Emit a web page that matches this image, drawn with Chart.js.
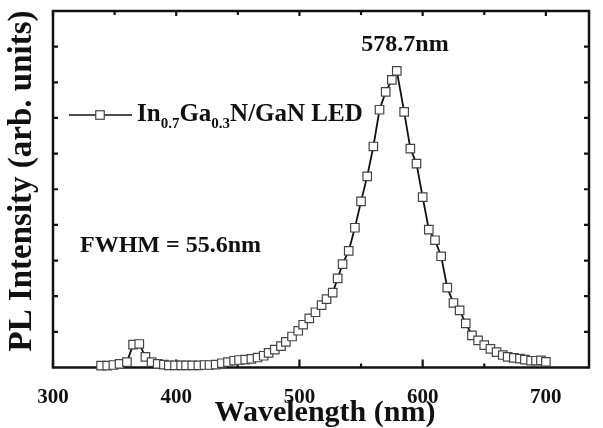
<!DOCTYPE html>
<html>
<head>
    <title>PL spectrum</title>
    <script src="https://cdn.jsdelivr.net/npm/chart.js@4.4.0/dist/chart.umd.min.js"></script>
    <style>
        body { margin: 0; background: #fff; }
        #wrap { width: 603px; height: 428px; }
    </style>
</head>
<body>
<div id="wrap"><canvas id="pl"></canvas></div>
<script>
    // values
    var wavelength = [339, 344, 349, 354, 360, 365, 370, 375, 380, 385,
        390, 394, 399, 404, 408, 413, 418, 423, 427, 432,
        437, 442, 447, 451, 456, 461, 466, 471, 475, 480,
        485, 489, 494, 499, 503, 508, 513, 518, 522, 527,
        531, 535, 540, 545, 550, 555, 560, 565, 570, 575,
        579, 585, 590, 595, 600, 605, 610, 615, 620, 625,
        630, 635, 640, 645, 650, 655, 660, 665, 669, 674,
        679, 683, 688, 692, 696, 700];
    var intensity = [0.05, 0.05, 0.07, 0.10, 0.15, 0.64, 0.66, 0.30, 0.15, 0.10,
        0.08, 0.06, 0.06, 0.06, 0.06, 0.06, 0.06, 0.07, 0.07, 0.08,
        0.12, 0.15, 0.19, 0.21, 0.22, 0.24, 0.28, 0.33, 0.41, 0.50,
        0.60, 0.72, 0.87, 1.03, 1.20, 1.38, 1.55, 1.75, 1.92, 2.10,
        2.50, 2.90, 3.27, 3.92, 4.66, 5.36, 6.20, 7.23, 7.73, 8.07,
        8.32, 7.17, 6.14, 5.72, 4.78, 3.87, 3.57, 3.12, 2.24, 1.81,
        1.60, 1.24, 0.90, 0.76, 0.63, 0.52, 0.43, 0.35, 0.30, 0.27,
        0.25, 0.22, 0.19, 0.19, 0.20, 0.16];
    var xTickLabels = [300, 400, 500, 600, 700];
    var xTickMarks = [300, 350, 400, 450, 500, 550, 600, 650, 700];
    var yTickMarks = [1, 2, 3, 4, 5, 6, 7, 8, 9];

    var serif = '"Liberation Serif", "Times New Roman", serif';

    function drawSquare(ctx, x, y, side) {
        ctx.fillStyle = '#fff';
        ctx.strokeStyle = '#444';
        ctx.lineWidth = 1.2;
        ctx.fillRect(x - side / 2, y - side / 2, side, side);
        ctx.strokeRect(x - side / 2, y - side / 2, side, side);
    }

    // frame with inward ticks, under the data
    var framePlugin = {
        id: 'frame',
        beforeDatasetsDraw: function (chart) {
            var ctx = chart.ctx, a = chart.chartArea;
            var xs = chart.scales.x, ys = chart.scales.y;
            ctx.save();
            ctx.strokeStyle = '#111';
            ctx.lineWidth = 2.5;
            ctx.strokeRect(a.left, a.top, a.right - a.left, a.bottom - a.top);
            ctx.lineWidth = 2.2;
            ctx.beginPath();
            xTickMarks.forEach(function (v) {
                var px = xs.getPixelForValue(v);
                var major = v % 100 === 0;
                ctx.moveTo(px, a.bottom);
                ctx.lineTo(px, a.bottom - (major ? 8 : 4));
                ctx.moveTo(px, a.top);
                ctx.lineTo(px, a.top + (major ? 5 : 4));
            });
            yTickMarks.forEach(function (v) {
                var py = ys.getPixelForValue(v);
                ctx.moveTo(a.left, py);
                ctx.lineTo(a.left + 5, py);
                ctx.moveTo(a.right, py);
                ctx.lineTo(a.right - 5, py);
            });
            ctx.stroke();
            ctx.restore();
        }
    };

    // titles, legend and the two notes
    var textPlugin = {
        id: 'texts',
        afterDraw: function (chart) {
            var ctx = chart.ctx;
            ctx.save();
            ctx.fillStyle = '#111';

            ctx.textAlign = 'center';
            ctx.textBaseline = 'middle';
            ctx.font = 'bold 30px ' + serif;
            ctx.fillText('Wavelength (nm)', 325, 413);
            ctx.save();
            ctx.font = 'bold 33px ' + serif;
            ctx.translate(22, 181);
            ctx.rotate(-Math.PI / 2);
            ctx.fillText('PL Intensity (arb. units)', 0, 0);
            ctx.restore();

            ctx.textBaseline = 'alphabetic';
            ctx.font = 'bold 24px ' + serif;
            ctx.fillText('578.7nm', 405, 51);
            ctx.textAlign = 'left';
            ctx.fillText('FWHM = 55.6nm', 80, 252);

            // legend
            ctx.strokeStyle = '#111';
            ctx.lineWidth = 1.6;
            ctx.beginPath();
            ctx.moveTo(69, 115);
            ctx.lineTo(132, 115);
            ctx.stroke();
            drawSquare(ctx, 100, 115, 8.5);
            ctx.fillStyle = '#111';
            var x = 137, base = 121;
            var parts = [['In', 0], ['0.7', 1], ['Ga', 0], ['0.3', 1], ['N/GaN LED', 0]];
            parts.forEach(function (p) {
                ctx.font = p[1] ? 'bold 15px ' + serif : 'bold 25px ' + serif;
                ctx.fillText(p[0], x, p[1] ? base + 7 : base);
                x += ctx.measureText(p[0]).width;
            });
            ctx.restore();
        }
    };

    var points = wavelength.map(function (w, i) {
        return { x: w, y: intensity[i] };
    });

    new Chart(document.getElementById('pl').getContext('2d'), {
        type: 'line',
        data: {
            datasets: [{
                label: 'In0.7Ga0.3N/GaN LED',
                data: points,
                borderColor: '#111',
                borderWidth: 1.8,
                tension: 0,
                pointStyle: 'rect',
                pointRadius: 6,
                pointBorderWidth: 1.2,
                pointBorderColor: '#444',
                pointBackgroundColor: '#fff',
                clip: false
            }]
        },
        options: {
            responsive: true,
            maintainAspectRatio: false,
            animation: false,
            layout: { padding: { top: 11, right: 14, left: 0, bottom: 0 } },
            plugins: {
                legend: { display: false },
                tooltip: { enabled: false }
            },
            scales: {
                x: {
                    type: 'linear',
                    min: 300,
                    max: 735,
                    grid: { display: false },
                    border: { display: false },
                    afterBuildTicks: function (scale) {
                        scale.ticks = xTickLabels.map(function (v) { return { value: v }; });
                    },
                    afterFit: function (scale) { scale.height = 60.5; },
                    ticks: {
                        padding: 9,
                        color: '#111',
                        maxRotation: 0,
                        font: { family: serif, size: 21, weight: 'bold' }
                    }
                },
                y: {
                    min: 0,
                    max: 10,
                    grid: { display: false },
                    border: { display: false },
                    ticks: { display: false },
                    afterFit: function (scale) { scale.width = 53; }
                }
            }
        },
        plugins: [framePlugin, textPlugin]
    });
</script>
</body>
</html>
